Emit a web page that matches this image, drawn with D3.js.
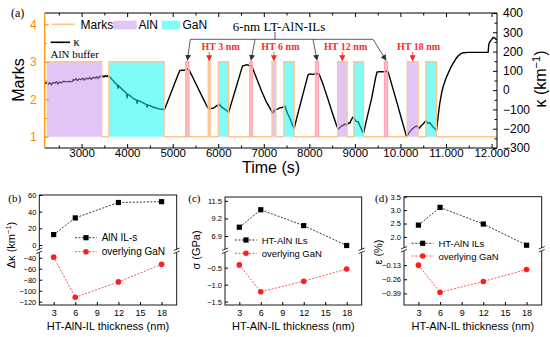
<!DOCTYPE html>
<html>
<head>
<meta charset="utf-8">
<script src="https://cdn.jsdelivr.net/npm/d3@7"></script>
<style>
body { margin: 0; background: #fff; }
</style>
</head>
<body>
<svg id="chart" width="550" height="337"></svg>
<script>
// ---------- panel (a) data ----------
const kTime = [2195, 2230, 2260, 2300, 2340, 2370, 2410, 2450, 2480, 2520, 2560, 2600, 2640, 2680, 2720, 2760, 2800,
  2816, 2850, 2880, 2910, 2950, 2990, 3030, 3060, 3100, 3140, 3180, 3210, 3250, 3290, 3330, 3360, 3400, 3439,
  3460, 3490, 3520, 3550, 3580, 3599,
  3630, 3660, 3700, 3740, 3780, 3800, 3810, 3850, 3900, 3950, 3990, 4000, 4010, 4060, 4110, 4160, 4200, 4220, 4230,
  4280, 4330, 4380, 4420, 4440, 4450, 4500, 4550, 4600, 4650, 4700, 4750, 4790, 4813,
  4900, 5000, 5100, 5158, 5200, 5250, 5300, 5340, 5362, 5450, 5550, 5650, 5750, 5779,
  5823, 5889, 5930, 5963, 5990, 6014, 6060, 6100, 6150, 6200, 6227,
  6300, 6400, 6500, 6534, 6580, 6620, 6680, 6732, 6850, 6950, 7050, 7150, 7193,
  7230, 7280, 7320, 7353, 7400, 7440, 7463, 7520, 7580, 7630, 7667,
  7750, 7850, 7950, 7974, 8020, 8080, 8150, 8215, 8300, 8400, 8500, 8600, 8633,
  8660, 8707, 8750, 8780, 8820, 8860, 8889, 8930, 8962, 8990, 9030, 9072, 9120, 9160, 9190,
  9270, 9370, 9460, 9488, 9550, 9620, 9680, 9730, 9830, 9930, 10030, 10134,
  10170, 10206, 10240, 10279, 10320, 10367, 10411, 10450, 10499, 10530, 10557, 10600, 10640, 10683, 10720, 10760, 10792,
  10830, 10864, 10900, 10937, 11000, 11047, 11100, 11157, 11210, 11266, 11320, 11376, 11500, 11700, 11925,
  11940, 11962, 12000, 12035, 12080, 12116];
const kValue = [33, 40, 30, 38, 28, 40, 36, 44, 32, 42, 38, 46, 44, 44, 45, 44, 45,
  55, 52, 60, 50, 58, 54, 62, 52, 62, 58, 66, 56, 66, 62, 70, 60, 72, 68,
  74, 68, 76, 70, 75, 71,
  66, 58, 48, 36, 28, 10, 24, 14, 2, -8, -18, -40, -20, -28, -38, -46, -50, -68, -52,
  -58, -64, -70, -74, -88, -76, -80, -86, -90, -94, -97, -100, -98, -104,
  -52, 8, 70, 102, 104, 103, 108, 110, 104, 62, 14, -35, -82, -94,
  -96, -94, -88, -80, -82, -72, -84, -92, -100, -108, -117,
  -58, 20, 100, 126, 128, 132, 128, 126, 56, -4, -58, -100, -120,
  -106, -100, -96, -92, -90, -86, -82, -120, -150, -180, -198,
  -120, -30, 60, 80, 84, 82, 86, 84, 30, -40, -115, -185, -203,
  -195, -186, -182, -175, -180, -170, -172, -150, -138, -150, -162, -164, -190, -210, -224,
  -140, -40, 70, 94, 96, 95, 98, 94, 12, -70, -155, -241,
  -228, -215, -206, -198, -190, -186, -198, -186, -176, -166, -158, -172, -168, -181, -192, -200, -210,
  -130, -68, -20, 18, 62, 87, 115, 139, 160, 177, 188, 194, 196, 196, 196,
  238, 251, 262, 274, 268, 260];

const layerStart = [2250, 3600, 5290, 5780, 6000, 6695, 7180, 7440, 8135, 8620, 8977, 9650, 10147, 10557];
const layerEnd   = [3440, 4813, 5355, 5823, 6227, 6745, 7265, 7667, 8202, 8830, 9190, 9717, 10388, 10792];
const layerType  = ["AlN", "GaN", "LT", "AlN", "GaN", "LT", "AlN", "GaN", "LT", "AlN", "GaN", "LT", "AlN", "GaN"];
const htNames = ["HT 3 nm", "HT 6 nm", "HT 12 nm", "HT 18 nm"];

const timeTicks = [3000, 4000, 5000, 6000, 7000, 8000, 9000, 10000, 11000, 12000];
const kappaTicks = [-300, -200, -100, 0, 100, 200, 300, 400];
const markTicks = [1, 2, 3, 4];

// ---------- panels (b)-(d) data ----------
const thickness = [3, 6, 12, 18];
const dKappaAlN = [12.5, 32.5, 51, 52];
const dKappaGaN = [-39, -112, -84, -52];
const stressAlN = [8.05, 10.33, 8.26, 5.66];
const stressGaN = [-0.42, -1.21, -0.9, -0.54];
const strainAlN = [2.44, 3.1, 2.48, 1.69];
const strainGaN = [-0.13, -0.38, -0.28, -0.17];
const thickTicks = [3, 6, 9, 12, 15, 18];

const sans = "'Liberation Sans', Arial, sans-serif";
const serif = "'Liberation Serif', 'Times New Roman', serif";
const orange = "#FF8A00";
const markColor = "#FFC68C";
const fills = { AlN: "rgba(196,140,240,0.5)", GaN: "rgba(0,250,245,0.5)", LT: "rgba(255,120,160,0.5)" };

const svg = d3.select("#chart");
svg.append("rect").attr("width", 550).attr("height", 337).attr("fill", "#fff");

const defs = svg.append("defs");
function arrowMarker(id, color) {
    defs.append("marker").attr("id", id)
        .attr("viewBox", "0 0 10 10").attr("refX", 9).attr("refY", 5)
        .attr("markerWidth", 6).attr("markerHeight", 6).attr("markerUnits", "userSpaceOnUse")
        .attr("orient", "auto")
        .append("path").attr("d", "M0,0 L10,5 L0,10 z").attr("fill", color);
}
arrowMarker("arrK", "#333");
arrowMarker("arrR", "#FF2020");

// ================= panel (a) =================
const pa = { left: 44.7, right: 497, top: 13, bottom: 148 };
const x = d3.scaleLinear().domain([2190, 12120]).range([pa.left, pa.right]);
const yM = d3.scaleLinear().domain([0.7, 4.3]).range([pa.bottom, pa.top]);
const yK = d3.scaleLinear().domain([-300, 400]).range([pa.bottom, pa.top]);

const ga = svg.append("g");
defs.append("clipPath").attr("id", "clipA").append("rect")
    .attr("x", pa.left).attr("y", pa.top).attr("width", pa.right - pa.left).attr("height", pa.bottom - pa.top);

// curvature line (under the translucent layer fills)
const kData = kTime.map((t, i) => ({ t: t, k: kValue[i] }));
ga.append("path").datum(kData)
    .attr("clip-path", "url(#clipA)")
    .attr("fill", "none").attr("stroke", "#000").attr("stroke-width", 1.4).attr("stroke-linejoin", "round")
    .attr("d", d3.line().x(d => x(d.t)).y(d => yK(d.k)));

const layers = layerStart.map((s, i) => ({ s: s, e: layerEnd[i], type: layerType[i] }));
ga.selectAll("rect.layer").data(layers).join("rect").attr("class", "layer")
    .attr("x", d => x(d.s)).attr("width", d => x(d.e) - x(d.s))
    .attr("y", yM(3)).attr("height", yM(1) - yM(3))
    .attr("fill", d => fills[d.type]);

// marks step line
const markPts = [[2190, 1]];
layers.forEach(d => { markPts.push([d.s, 1], [d.s, 3], [d.e, 3], [d.e, 1]); });
markPts.push([12120, 1]);
ga.append("path").datum(markPts)
    .attr("fill", "none").attr("stroke", markColor).attr("stroke-width", 1.3)
    .attr("d", d3.line().x(d => x(d[0])).y(d => yM(d[1])));

ga.selectAll("rect.lt").data(layers.filter(d => d.type === "LT")).join("rect").attr("class", "lt")
    .attr("x", d => x(d.s)).attr("width", d => x(d.e) - x(d.s))
    .attr("y", yM(3)).attr("height", yM(1) - yM(3))
    .attr("fill", "none").attr("stroke", "#FFA0BC").attr("stroke-width", 1);

// axes
function styleAxis(g, color, size) {
    g.select(".domain").remove();
    g.attr("font-family", sans).attr("font-size", size);
    g.selectAll("line").attr("stroke", color);
    g.selectAll("text").attr("fill", color);
}
ga.append("g").attr("transform", `translate(0,${pa.bottom})`)
    .call(d3.axisBottom(x).tickValues(timeTicks).tickSizeInner(-4).tickSizeOuter(0).tickPadding(0.5)
        .tickFormat(d => d >= 10000 ? (d / 1000) + ".000" : d))
    .call(g => styleAxis(g, "#000", 11.5));
ga.append("g").attr("transform", `translate(0,${pa.bottom})`)
    .call(d3.axisBottom(x).tickValues(timeTicks.map(d => d - 500)).tickSize(-2.5).tickFormat(""))
    .call(g => styleAxis(g, "#000", 12));
ga.append("g").attr("transform", `translate(0,${pa.top})`)
    .call(d3.axisTop(x).tickValues(timeTicks).tickSize(-4).tickFormat(""))
    .call(g => styleAxis(g, "#000", 12));
ga.append("g").attr("transform", `translate(0,${pa.top})`)
    .call(d3.axisTop(x).tickValues(timeTicks.map(d => d - 500)).tickSize(-2.5).tickFormat(""))
    .call(g => styleAxis(g, "#000", 12));
ga.append("g").attr("transform", `translate(${pa.left},0)`)
    .call(d3.axisLeft(yM).tickValues(markTicks).tickFormat(d3.format("d")).tickSizeInner(-4).tickSizeOuter(0).tickPadding(8))
    .call(g => styleAxis(g, orange, 12));
ga.append("g").attr("transform", `translate(${pa.left},0)`)
    .call(d3.axisLeft(yM).tickValues([1.5, 2.5, 3.5]).tickSize(-2.5).tickFormat(""))
    .call(g => styleAxis(g, orange, 12));
ga.append("g").attr("transform", `translate(${pa.right},0)`)
    .call(d3.axisRight(yK).tickValues(kappaTicks).tickFormat(d3.format("d")).tickSizeInner(-4).tickSizeOuter(0).tickPadding(6))
    .call(g => styleAxis(g, "#000", 12));
ga.append("g").attr("transform", `translate(${pa.right},0)`)
    .call(d3.axisRight(yK).tickValues(kappaTicks.slice(1).map(d => d - 50)).tickSize(-2.5).tickFormat(""))
    .call(g => styleAxis(g, "#000", 12));

// frame
ga.append("path").attr("fill", "none").attr("stroke", "#000").attr("stroke-width", 1)
    .attr("d", `M${pa.left},${pa.top}H${pa.right}V${pa.bottom}H${pa.left}`);
ga.append("line").attr("x1", pa.left).attr("x2", pa.left).attr("y1", pa.top).attr("y2", pa.bottom)
    .attr("stroke", orange).attr("stroke-width", 1.2);

// axis titles
ga.append("text").attr("transform", `translate(24,80) rotate(-90)`).attr("text-anchor", "middle")
    .attr("font-family", sans).attr("font-size", 16).text("Marks");
const kLab = ga.append("text").attr("transform", `translate(546,79) rotate(-90)`).attr("text-anchor", "middle")
    .attr("font-family", sans).attr("font-size", 16);
kLab.append("tspan").text("κ (km");
kLab.append("tspan").attr("dy", -6).attr("font-size", 11).text("−1");
kLab.append("tspan").attr("dy", 6).text(")");
ga.append("text").attr("x", 271).attr("y", 173).attr("text-anchor", "middle")
    .attr("font-family", sans).attr("font-size", 16).text("Time (s)");
ga.append("text").attr("x", 11).attr("y", 17).attr("font-family", serif).attr("font-size", 12).text("(a)");

// legend
ga.append("line").attr("x1", 51.7).attr("x2", 75).attr("y1", 24.3).attr("y2", 24.3).attr("stroke", markColor).attr("stroke-width", 1.6);
ga.append("text").attr("x", 80.5).attr("y", 28.6).attr("font-family", sans).attr("font-size", 12).text("Marks");
ga.append("rect").attr("x", 113.3).attr("y", 20.7).attr("width", 23.4).attr("height", 8.6).attr("fill", fills.AlN);
ga.append("text").attr("x", 138.5).attr("y", 28.6).attr("font-family", sans).attr("font-size", 12).text("AlN");
ga.append("rect").attr("x", 161.7).attr("y", 20.7).attr("width", 18.3).attr("height", 8.6).attr("fill", fills.GaN);
ga.append("text").attr("x", 182.5).attr("y", 28.6).attr("font-family", sans).attr("font-size", 12).text("GaN");
ga.append("line").attr("x1", 50.7).attr("x2", 70).attr("y1", 42.3).attr("y2", 42.3).attr("stroke", "#000").attr("stroke-width", 1.6);
ga.append("text").attr("x", 73.5).attr("y", 45.5).attr("font-family", serif).attr("font-size", 12).text("κ");
ga.append("text").attr("x", 50.5).attr("y", 57.5).attr("font-family", serif).attr("font-size", 11).text("AlN buffer");

// LT bracket with arrows
const ltLayers = layers.filter(d => d.type === "LT");
const ltMid = ltLayers.map(d => x((d.s + d.e) / 2));
const startOff = [3, 4, -4, -13];
const brY = 39.3;
ga.append("line").attr("x1", ltMid[0] + startOff[0]).attr("x2", ltMid[3] + startOff[3])
    .attr("y1", brY).attr("y2", brY).attr("stroke", "#333").attr("stroke-width", 0.8);
ga.append("line").attr("x1", 275).attr("x2", 275).attr("y1", 32).attr("y2", brY)
    .attr("stroke", "#333").attr("stroke-width", 0.8);
ltMid.forEach((m, i) => {
    ga.append("line").attr("x1", m + startOff[i]).attr("y1", brY).attr("x2", m).attr("y2", yM(3) - 1.5)
        .attr("stroke", "#333").attr("stroke-width", 0.8).attr("marker-end", "url(#arrK)");
});
ga.append("text").attr("x", 279).attr("y", 31).attr("text-anchor", "middle")
    .attr("font-family", serif).attr("font-size", 13).text("6-nm LT-AlN-ILs");

// HT labels
const htLayers = layers.filter((d, i) => d.type === "AlN" && i > 0);
const htOff = [-7.6, -12.6, -18.3, -15.7];
htLayers.forEach((d, i) => {
    const m = x((d.s + d.e) / 2);
    ga.append("text").attr("x", m + htOff[i]).attr("y", 50).attr("font-family", serif)
        .attr("font-weight", "bold").attr("font-size", 10).attr("fill", "#FF2A2A").text(htNames[i]);
    ga.append("line").attr("x1", m).attr("x2", m).attr("y1", 52).attr("y2", yM(3) - 1)
        .attr("stroke", "#FF2A2A").attr("stroke-width", 0.8).attr("marker-end", "url(#arrR)");
});

// ================= panels (b)-(d) =================
const panels = [
    { tag: "(b)", tagX: 8.3, left: 39.3, right: 176.7, top: 195, bottom: 305, brk: 251,
      upper: [-7.2, 60], lower: [-126, -27.8], upTicks: [0, 20, 40, 60], lowTicks: [-40, -60, -80, -100, -120],
      fmt: d3.format("d"), s1: dKappaAlN, s2: dKappaGaN, names: ["AlN IL-s", "overlying GaN"],
      ylab: ["Δκ (km", "−1", ")"], ylabX: 15, ylabY: 245, legX: 75, legY: [237.7, 251.7], legFont: 10 },
    { tag: "(c)", tagX: 188.3, left: 225, right: 361.7, top: 197, bottom: 305, brk: 251,
      upper: [4.94, 12.0], lower: [-1.6, -0.01], upTicks: [6.9, 9.2, 11.5], lowTicks: [-0.5, -1.0, -1.5],
      fmt: d3.format(".1f"), s1: stressAlN, s2: stressGaN, names: ["HT-AlN ILs", "overlying GaN"],
      ylab: ["σ (GPa)"], ylabX: 200, ylabY: 250, legX: 235, legY: [240, 253.3], legFont: 9.5 },
    { tag: "(d)", tagX: 375, left: 404, right: 541.7, top: 196.7, bottom: 305, brk: 249.5,
      upper: [1.53, 3.5], lower: [-0.497, 0.014], upTicks: [2.0, 2.5, 3.0, 3.5], lowTicks: [-0.13, -0.26, -0.39],
      fmt: d3.format(".2f"), s1: strainAlN, s2: strainGaN, names: ["HT-AlN ILs", "overlying GaN"],
      ylab: ["ε (%)"], ylabX: 382, ylabY: 252, legX: 411.7, legY: [243.3, 256], legFont: 9.5 }
];
panels[2].fmtUp = d3.format(".1f");

panels.forEach(p => drawPanel(p));

function drawPanel(p) {
    const g = svg.append("g");
    const px = d3.scaleLinear().domain([1, 20.1]).range([p.left, p.right]);
    const yU = d3.scaleLinear().domain(p.upper).range([p.brk, p.top]);
    const yL = d3.scaleLinear().domain(p.lower).range([p.bottom, p.brk]);

    g.append("rect").attr("x", p.left).attr("y", p.top).attr("width", p.right - p.left).attr("height", p.bottom - p.top)
        .attr("fill", "none").attr("stroke", "#000").attr("stroke-width", 0.9);

    g.append("g").attr("transform", `translate(0,${p.bottom})`)
        .call(d3.axisBottom(px).tickValues(thickTicks).tickFormat(d3.format("d")).tickSizeInner(-3).tickSizeOuter(0).tickPadding(5))
        .call(a => styleAxis(a, "#000", 9));
    g.append("g").attr("transform", `translate(${p.left},0)`)
        .call(d3.axisLeft(yU).tickValues(p.upTicks).tickFormat(p.fmtUp || p.fmt).tickSizeInner(-3).tickSizeOuter(0).tickPadding(3))
        .call(a => styleAxis(a, "#000", 7.5));
    g.append("g").attr("transform", `translate(${p.left},0)`)
        .call(d3.axisLeft(yL).tickValues(p.lowTicks).tickFormat(p.fmt).tickSizeInner(-3).tickSizeOuter(0).tickPadding(3))
        .call(a => styleAxis(a, "#000", 7.5));

    // axis break marks
    [p.left, p.right].forEach(ax => {
        g.append("rect").attr("x", ax - 1.5).attr("y", p.brk - 1.5).attr("width", 3).attr("height", 3).attr("fill", "#fff");
        g.append("line").attr("x1", ax - 3).attr("y1", p.brk - 0.5).attr("x2", ax + 3).attr("y2", p.brk - 3)
            .attr("stroke", "#000").attr("stroke-width", 0.8);
        g.append("line").attr("x1", ax - 3).attr("y1", p.brk + 2.5).attr("x2", ax + 3).attr("y2", p.brk)
            .attr("stroke", "#000").attr("stroke-width", 0.8);
    });

    const series = [
        { vals: p.s1, y: yU, color: "#000", lineColor: "#222", shape: "square" },
        { vals: p.s2, y: yL, color: "#FF1E1E", lineColor: "#FF4040", shape: "circle" }
    ];
    series.forEach((s, si) => {
        const pts = thickness.map((t, i) => [px(t), s.y(s.vals[i])]);
        g.append("path").datum(pts).attr("fill", "none").attr("stroke", s.lineColor)
            .attr("stroke-width", 0.9).attr("stroke-dasharray", "2,1.5")
            .attr("d", d3.line());
        drawMarkers(g, pts, s);
        // legend
        const ly = p.legY[si];
        g.append("line").attr("x1", p.legX).attr("x2", p.legX + 21.7).attr("y1", ly).attr("y2", ly)
            .attr("stroke", s.lineColor).attr("stroke-width", 0.9).attr("stroke-dasharray", "2,1.5");
        drawMarkers(g, [[p.legX + 11, ly]], s);
        g.append("text").attr("x", p.legX + 26.7).attr("y", ly + 3.5)
            .attr("font-family", sans).attr("font-size", p.legFont).text(p.names[si]);
    });

    const yl = g.append("text").attr("transform", `translate(${p.ylabX},${p.ylabY}) rotate(-90)`)
        .attr("text-anchor", "middle").attr("font-family", sans).attr("font-size", 11);
    yl.append("tspan").text(p.ylab[0]);
    if (p.ylab.length > 1) {
        yl.append("tspan").attr("dy", -4).attr("font-size", 7.5).text(p.ylab[1]);
        yl.append("tspan").attr("dy", 4).text(p.ylab[2]);
    }
    g.append("text").attr("x", (p.left + p.right) / 2).attr("y", 330).attr("text-anchor", "middle")
        .attr("font-family", sans).attr("font-size", 11).text("HT-AlN-IL thickness (nm)");
    g.append("text").attr("x", p.tagX).attr("y", 201.5).attr("font-family", serif).attr("font-size", 11).text(p.tag);
}

function drawMarkers(g, pts, s) {
    if (s.shape === "square") {
        g.selectAll(null).data(pts).join("rect")
            .attr("x", d => d[0] - 2.6).attr("y", d => d[1] - 2.6).attr("width", 5.2).attr("height", 5.2)
            .attr("fill", s.color);
    } else {
        g.selectAll(null).data(pts).join("circle")
            .attr("cx", d => d[0]).attr("cy", d => d[1]).attr("r", 2.8).attr("fill", s.color);
    }
}
</script>
</body>
</html>
